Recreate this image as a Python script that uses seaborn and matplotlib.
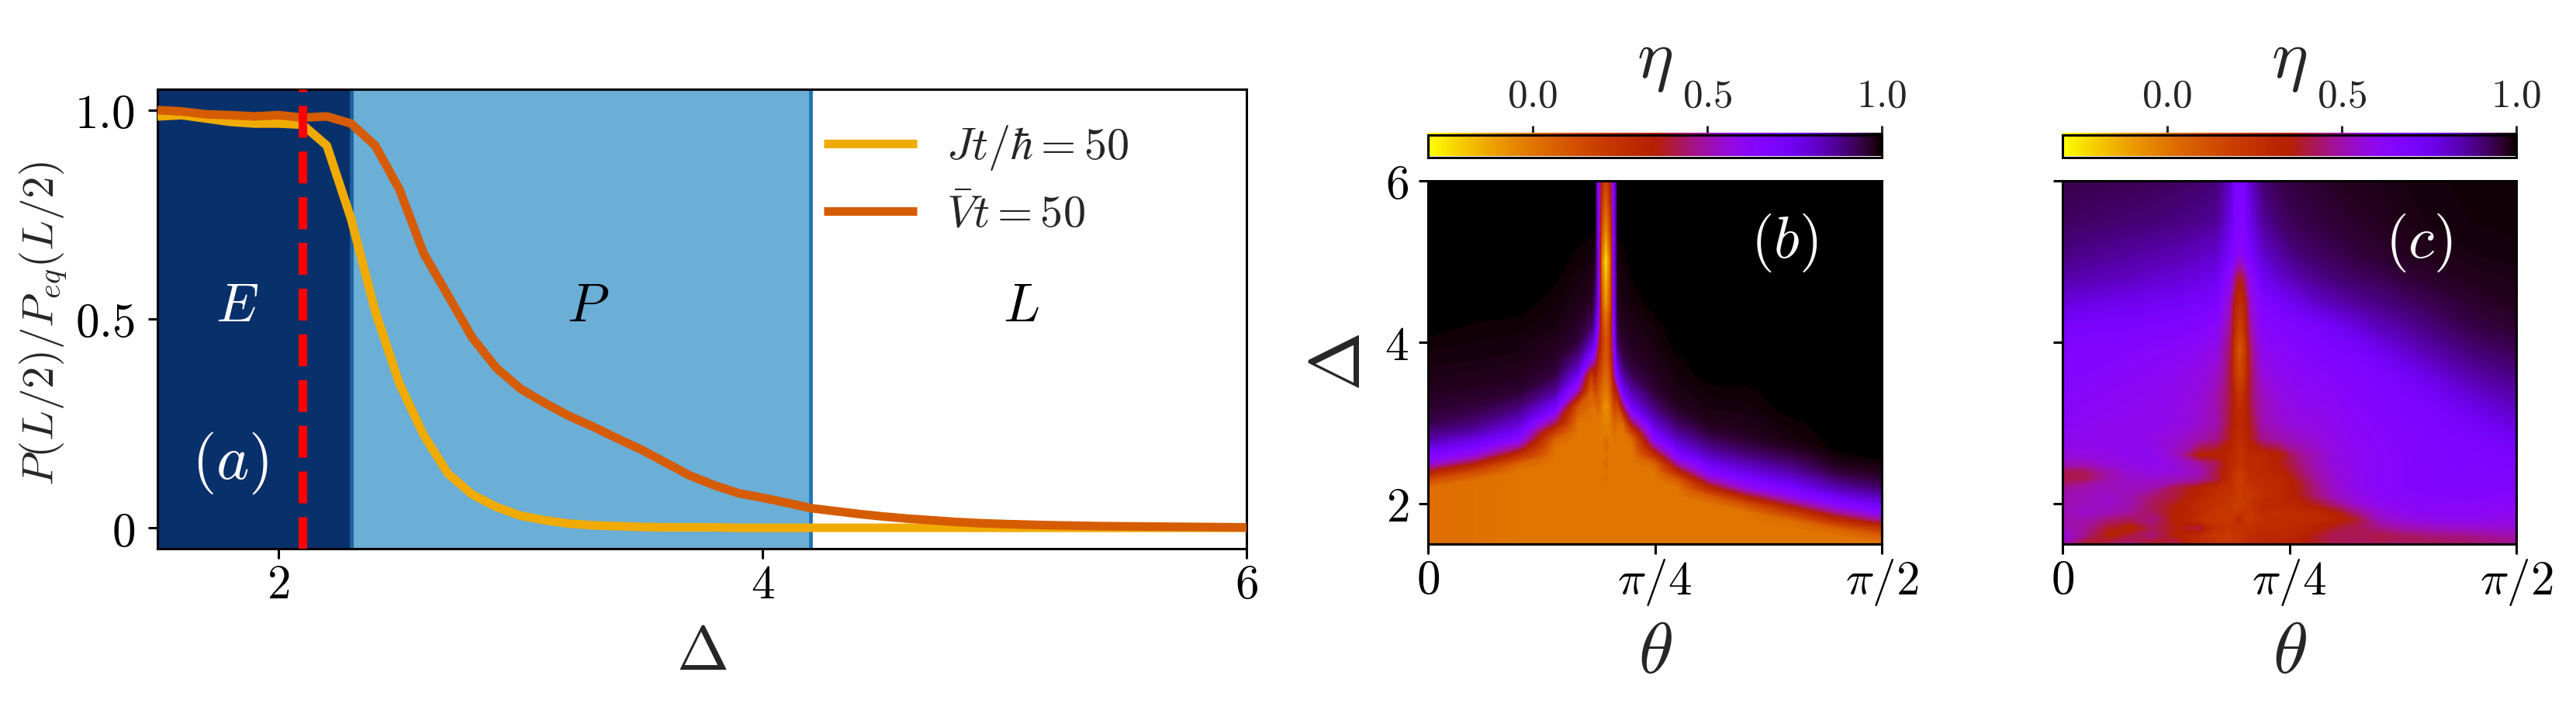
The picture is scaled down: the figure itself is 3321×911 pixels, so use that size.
import numpy as np
import pandas as pd
import matplotlib
matplotlib.use("Agg")
import matplotlib.pyplot as plt
import seaborn as sns

delta_a = [1.5, 1.6, 1.7, 1.8, 1.9, 2.0, 2.1, 2.2, 2.3, 2.4, 2.5, 2.6, 2.7, 2.8, 2.9, 3.0, 3.1, 3.2, 3.3, 3.4,
           3.5, 3.6, 3.7, 3.8, 3.9, 4.0, 4.1, 4.2, 4.3, 4.4, 4.5, 4.6, 4.7, 4.8, 4.9, 5.0, 5.2, 5.4, 5.6, 5.8, 6.0]
ratio_j = [.985, .988, .98, .972, .968, .968, .965, .915, .74, .518, .345, .222, .13, .08, .05, .029, .018, .01, .006, .004,
           .002, .001, .001, .001, .0, .0, .0, .0, .0, .0, .0, .0, .0, .0, .0, .0, .0, .0, .0, .0, .0]
ratio_v = [1.0, .997, .99, .988, .985, .988, .982, .985, .968, .915, .81, .657, .557, .456, .383, .333, .299, .268, .242, .214,
           .187, .156, .125, .102, .083, .072, .06, .047, .04, .033, .027, .022, .018, .014, .011, .009, .006, .004, .003, .002, .001]

theta_b = [0, .1, .2, .28, .33, .36, .368, .375, .383, .392, .402, .41, .418, .43, .45, .5, .55, .62, .7, .8, .9, 1]
delta_b = [1.5, 1.6, 1.7, 1.8, 1.9, 2.0, 2.1, 2.2, 2.3, 2.4, 2.5, 2.6, 2.7, 2.8, 2.9, 3.0,
           3.2, 3.4, 3.6, 3.8, 4.0, 4.2, 4.5, 5.0, 5.5, 6.0]
# one line per theta column, bottom to top in delta
eta_b = [
    [.02, .02, .02, .02, .02, .02, .02, .02, .14, .36, .57, .68, .77, .85, .9, .935, .96, .972, .982, .988, .992, 1, 1, 1, 1, 1],
    [.01, .01, .01, .01, .01, .01, .01, .01, .02, .14, .36, .57, .68, .77, .85, .9, .95, .968, .978, .986, .99, .994, 1, 1, 1, 1],
    [0, 0, 0, 0, 0, 0, 0, 0, 0, 0, .05, .25, .46, .64, .73, .8, .9, .96, .972, .983, .988, .992, 1, 1, 1, 1],
    [0, 0, 0, 0, 0, 0, 0, 0, 0, 0, 0, 0, 0, .05, .2, .42, .72, .87, .945, .965, .975, .985, .991, 1, 1, 1],
    [0, 0, 0, 0, 0, 0, 0, 0, 0, 0, 0, 0, 0, 0, 0, 0, .1, .52, .76, .88, .95, .965, .98, .992, 1, 1],
    [0, 0, 0, 0, 0, 0, 0, 0, 0, 0, 0, 0, 0, 0, 0, 0, .02, .05, .2, .63, .82, .92, .965, .987, 1, 1],
    [0, 0, 0, 0, 0, 0, 0, 0, 0, 0, 0, 0, 0, 0, 0, 0, 0, .15, .32, .5, .7, .8, .9, .97, 1, 1],
    [0, 0, 0, 0, 0, 0, 0, 0, 0, 0, 0, 0, 0, 0, 0, 0, .05, .1, .2, .32, .45, .58, .68, .68, .66, .62],
    [0, 0, 0, 0, 0, 0, 0, 0, 0, 0, 0, -.01, -.01, -.02, -.02, -.02, -.02, .03, .1, .18, .2, .18, .08, -.02, .14, .3],
    [0, 0, 0, 0, 0, 0, 0, 0, .02, 0, .04, 0, .04, .02, -.02, -.05, -.1, -.03, .02, .06, .07, .02, -.12, -.28, -.05, .14],
    [0, 0, 0, 0, 0, 0, 0, 0, 0, 0, 0, -.01, -.01, -.02, -.02, -.02, 0, .05, .13, .2, .22, .2, .1, .02, .18, .34],
    [0, 0, 0, 0, 0, 0, 0, 0, 0, 0, 0, 0, 0, 0, .02, .05, .15, .3, .45, .55, .62, .65, .66, .66, .66, .66],
    [0, 0, 0, 0, 0, 0, 0, 0, 0, 0, 0, 0, 0, 0, 0, .02, .12, .4, .7, .83, .92, .95, .975, .99, 1, 1],
    [0, 0, 0, 0, 0, 0, 0, 0, 0, 0, 0, 0, 0, 0, 0, .03, .42, .72, .86, .935, .96, .972, .985, .99, 1, 1],
    [0, 0, 0, 0, 0, 0, 0, 0, 0, 0, 0, 0, 0, .03, .2, .42, .73, .85, .93, .96, .972, .98, .989, 1, 1, 1],
    [0, 0, 0, 0, 0, 0, 0, 0, 0, 0, .05, .25, .46, .64, .73, .8, .9, .955, .97, .98, .987, .991, 1, 1, 1, 1],
    [0, 0, 0, 0, 0, 0, 0, 0, .08, .3, .5, .67, .75, .82, .88, .92, .97, .982, .989, .994, 1, 1, 1, 1, 1, 1],
    [0, 0, 0, 0, 0, 0, .08, .3, .5, .66, .74, .82, .88, .92, .955, .974, .987, .992, 1, 1, 1, 1, 1, 1, 1, 1],
    [0, 0, 0, 0, 0, .12, .36, .57, .68, .76, .83, .89, .93, .96, .973, .98, .988, .993, 1, 1, 1, 1, 1, 1, 1, 1],
    [0, 0, 0, .03, .2, .42, .6, .7, .78, .85, .9, .94, .97, .986, .99, .993, 1, 1, 1, 1, 1, 1, 1, 1, 1, 1],
    [0, 0, .06, .28, .48, .64, .75, .84, .9, .95, .978, .99, 1, 1, 1, 1, 1, 1, 1, 1, 1, 1, 1, 1, 1, 1],
    [0, .06, .24, .47, .64, .75, .84, .91, .95, .975, .99, 1, 1, 1, 1, 1, 1, 1, 1, 1, 1, 1, 1, 1, 1, 1],
]

theta_c = [0, .05, .1, .15, .2, .25, .3, .34, .37, .38, .391, .402, .415, .44, .48, .52, .56, .6, .65, .7, .75, .8, .9, 1]
delta_c = [1.5, 1.6, 1.7, 1.8, 1.9, 2.0, 2.1, 2.2, 2.3, 2.4, 2.5, 2.6, 2.8, 3.0, 3.3, 3.6, 3.9, 4.2, 4.5, 4.8, 5.1, 5.5, 6.0]
# one line per delta row, bottom to top
eta_c = [
    [.52, .36, .42, .45, .36, .42, .3, .26, .22, .24, .26, .28, .3, .32, .33, .35, .38, .42, .43, .42, .44, .42, .44, .47],
    [.56, .46, .34, .4, .45, .34, .28, .22, .2, .24, .22, .26, .28, .3, .3, .32, .38, .42, .42, .4, .42, .44, .46, .5],
    [.52, .48, .38, .32, .42, .36, .4, .26, .24, .26, .24, .26, .25, .28, .28, .3, .34, .38, .42, .46, .5, .52, .54, .55],
    [.5, .5, .44, .42, .46, .34, .26, .24, .2, .26, .3, .22, .22, .27, .28, .28, .28, .32, .38, .52, .56, .58, .6, .58],
    [.52, .54, .52, .48, .42, .34, .3, .22, .24, .2, .22, .24, .22, .28, .27, .28, .3, .35, .46, .56, .6, .62, .62, .6],
    [.5, .52, .54, .5, .42, .36, .28, .26, .22, .2, .18, .2, .24, .3, .3, .33, .38, .45, .55, .6, .62, .64, .64, .62],
    [.5, .52, .54, .5, .44, .4, .32, .26, .24, .22, .2, .22, .22, .26, .3, .36, .44, .52, .58, .62, .64, .65, .66, .64],
    [.47, .5, .52, .53, .5, .4, .34, .28, .26, .22, .2, .22, .25, .28, .3, .36, .46, .54, .6, .63, .65, .66, .67, .66],
    [.4, .42, .5, .54, .54, .52, .48, .4, .28, .22, .18, .23, .27, .28, .3, .38, .48, .55, .6, .63, .65, .67, .67, .67],
    [.42, .42, .5, .56, .58, .56, .52, .4, .28, .24, .2, .25, .28, .3, .33, .42, .5, .56, .6, .63, .65, .66, .67, .68],
    [.52, .52, .56, .58, .6, .56, .48, .42, .3, .28, .24, .27, .3, .3, .36, .44, .52, .57, .61, .63, .65, .67, .68, .69],
    [.56, .57, .58, .6, .6, .52, .34, .33, .3, .28, .25, .27, .3, .3, .34, .46, .52, .57, .6, .63, .65, .67, .68, .7],
    [.6, .6, .6, .6, .58, .55, .5, .46, .36, .3, .27, .3, .36, .46, .5, .53, .56, .59, .62, .64, .66, .67, .69, .73],
    [.62, .61, .6, .6, .6, .58, .55, .5, .38, .32, .29, .32, .38, .5, .55, .57, .58, .6, .63, .65, .67, .68, .72, .78],
    [.64, .63, .62, .61, .6, .59, .56, .5, .4, .3, .24, .3, .42, .52, .57, .6, .61, .62, .65, .67, .68, .7, .78, .84],
    [.65, .65, .64, .63, .62, .6, .58, .54, .4, .22, .14, .22, .42, .56, .6, .62, .64, .65, .67, .68, .72, .76, .85, .89],
    [.66, .66, .66, .65, .64, .63, .61, .58, .42, .2, .08, .2, .44, .6, .63, .65, .67, .68, .7, .75, .79, .84, .9, .93],
    [.7, .7, .69, .69, .68, .67, .66, .63, .46, .27, .17, .27, .5, .63, .66, .68, .7, .73, .78, .83, .86, .89, .94, .96],
    [.78, .77, .76, .75, .74, .73, .71, .69, .52, .33, .26, .33, .55, .67, .72, .76, .81, .84, .87, .89, .91, .93, .96, .975],
    [.85, .84, .83, .82, .8, .79, .77, .75, .6, .45, .36, .45, .6, .74, .8, .85, .88, .9, .92, .93, .95, .96, .975, .982],
    [.89, .88, .87, .86, .85, .84, .82, .8, .7, .66, .6, .66, .7, .8, .86, .9, .92, .93, .95, .96, .97, .975, .985, .988],
    [.92, .915, .91, .905, .9, .89, .88, .87, .76, .68, .67, .68, .76, .86, .91, .935, .945, .955, .965, .97, .98, .985, .99, .992],
    [.935, .935, .93, .93, .925, .92, .91, .9, .8, .69, .68, .69, .8, .9, .935, .95, .96, .97, .975, .98, .985, .988, .992, .994],
]

W, H = 3321, 911
sns.set_style("ticks")
plt.rcParams["mathtext.fontset"] = "cm"
plt.rcParams["font.family"] = ["DejaVu Serif"]


def box(left, top, right, bottom):
    return [left / W, 1 - bottom / H, (right - left) / W, (bottom - top) / H]


def style(ax, ypad):
    ax.tick_params(length=9, width=2.2, labelsize=44, color="black", labelcolor="black")
    ax.tick_params(axis="y", pad=ypad)
    for s in ax.spines.values():
        s.set_linewidth(2.2)
        s.set_color("black")


fig = plt.figure(figsize=(W / 100, H / 100), dpi=100)

# panel a
ax = fig.add_axes(box(203, 115, 1607, 707))
ax.axvspan(1.5, 2.3, color="#08306b", lw=0)
ax.axvspan(2.3, 4.2, color="#6baed6", lw=0)
ax.axvline(2.3, color="#1a639f", lw=3.5)
ax.axvline(4.2, color="#1f77b4", lw=3.5)
df = pd.DataFrame({"delta": delta_a, "j": ratio_j, "v": ratio_v})
sns.lineplot(data=df, x="delta", y="j", color="#f0ab00", lw=8, ax=ax, label=r"$Jt/\hbar=50$", zorder=4)
sns.lineplot(data=df, x="delta", y="v", color="#d55c00", lw=8, ax=ax, label=r"$\bar{V}t=50$", zorder=5)
ax.axvline(2.1, color="#ff0000", lw=8, ls="--", zorder=6)
for ln in ax.get_lines():
    ln.set_solid_capstyle("butt")
ax.set_xlim(1.5, 6)
ax.set_ylim(-0.05, 1.05)
ax.set_xticks([2, 4, 6], ["$2$", "$4$", "$6$"])
ax.set_yticks([0, 0.5, 1], ["$0$", "$0.5$", "$1.0$"])
ax.set_xlabel(r"$\Delta$", fontsize=58, va="center")
ax.xaxis.set_label_coords(0.5, -0.226)
ax.set_ylabel(r"$P(L/2)/P_{eq}(L/2)$", fontsize=41, va="center")
ax.yaxis.set_label_coords(-0.105, 0.49)
ax.text(1.83, 0.53, "$E$", color="white", fontsize=50, ha="center", va="center")
ax.text(3.28, 0.53, "$P$", color="black", fontsize=50, ha="center", va="center")
ax.text(5.07, 0.53, "$L$", color="black", fontsize=50, ha="center", va="center")
ax.text(1.8, 0.155, "$(a)$", color="white", fontsize=58, ha="center", va="center")
ax.legend(loc="upper left", bbox_to_anchor=(0.612, 0.925), frameon=False, fontsize=42, handlelength=2.05,
          handletextpad=0.66, labelspacing=0.44, borderpad=0, borderaxespad=0)
style(ax, 12)

# panels b and c
panels = [
    (1841, 2426, theta_b, delta_b, np.array(eta_b).T, "$(b)$", True),
    (2659, 3244, theta_c, delta_c, np.array(eta_c), "$(c)$", False),
]
levels = np.linspace(-0.3, 1, 261)
for left, right, th, dl, eta, tag, show_y in panels:
    ax = fig.add_axes(box(left, 233, right, 701))
    cs = ax.contourf(np.array(th) * np.pi / 2, dl, eta, levels=levels, cmap="gnuplot_r",
                     vmin=-0.3, vmax=1, extend="both", antialiased=False)
    ax.set_xlim(0, np.pi / 2)
    ax.set_ylim(1.5, 6)
    ax.set_xticks([0, np.pi / 4, np.pi / 2], ["$0$", r"$\pi/4$", r"$\pi/2$"])
    ax.set_yticks([2, 4, 6])
    if show_y:
        ax.set_yticklabels(["$2$", "$4$", "$6$"])
        ax.set_ylabel(r"$\Delta$", fontsize=66, va="center")
        ax.yaxis.set_label_coords(-0.193, 0.5)
    else:
        ax.set_yticklabels([])
    ax.set_xlabel(r"$\theta$", fontsize=66, va="center")
    ax.xaxis.set_label_coords(0.5, -0.3)
    ax.text(0.785, 0.83, tag, color="white", fontsize=55, ha="center", va="center", transform=ax.transAxes)
    style(ax, 9)

    cax = fig.add_axes(box(left, 174, right, 203))
    sm = plt.cm.ScalarMappable(norm=plt.Normalize(-0.3, 1), cmap="gnuplot_r")
    cb = fig.colorbar(sm, cax=cax, orientation="horizontal")
    cb.set_ticks([0, 0.5, 1], labels=["$0.0$", "$0.5$", "$1.0$"])
    cax.xaxis.set_ticks_position("top")
    cax.xaxis.set_label_position("top")
    cax.tick_params(length=9, width=2.2, labelsize=37, pad=9)
    cb.set_label(r"$\eta$", fontsize=64, labelpad=0)
    cb.solids.set_clip_on(False)
    cax.set_ylim(-0.08, 0.9)
    cb.outline.set_linewidth(2.2)
    cb.outline.set_edgecolor("black")

fig.savefig("out.png", dpi=100)
